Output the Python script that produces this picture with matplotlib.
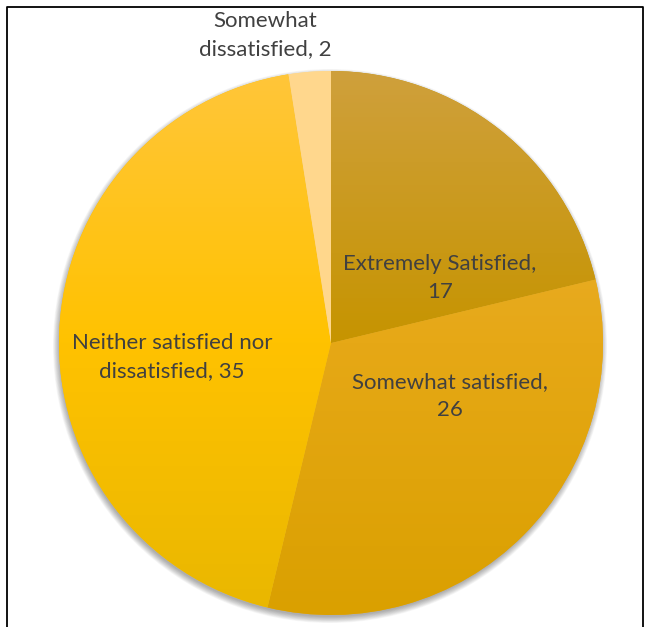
import numpy as np
import matplotlib.pyplot as plt
from matplotlib.colors import LinearSegmentedColormap
from matplotlib.patches import Circle

# dane wykresu
kategorie = ["Extremely Satisfied", "Somewhat satisfied",
             "Neither satisfied nor\ndissatisfied", "Somewhat\ndissatisfied"]
wartosci = [17, 26, 35, 2]
kolor_gora = ["#cfa03c", "#ecb23c", "#ffc63a", "#ffd88e"]
kolor_srodek = ["#c69400", "#e6a816", "#ffc200", "#ffd78c"]
kolor_dol = ["#b98700", "#daa000", "#e9b700", "#ffd68a"]
# pozycje etykiet (piksele obrazka)
etykiety_xy = [(440, 278), (450, 396), (172, 357), (265, 35)]

W, H = 649, 627
cx, cy, r = 331, H - 343, 272

plt.rcParams['font.family'] = ['Lato', 'DejaVu Sans']
fig = plt.figure(figsize=(W / 100, H / 100), dpi=100)
ax = fig.add_axes([0, 0, 1, 1])

# cien pod kolem
for i in range(10):
    ax.add_patch(Circle((cx - 1, cy - 3), r + 5 - i * 0.7, color='black',
                        alpha=0.035, lw=0, zorder=1))

wedges, _ = ax.pie(wartosci, startangle=90, counterclock=False,
                   center=(cx, cy), radius=r, frame=True,
                   wedgeprops=dict(linewidth=0))
ax.set_xlim(0, W)
ax.set_ylim(0, H)
ax.set_aspect('equal')
ax.axis('off')

# gradient pionowy w kazdym wycinku
for w, c1, c2, c3 in zip(wedges, kolor_gora, kolor_srodek, kolor_dol):
    w.set_zorder(2)
    w.set_facecolor(c2)
    cmap = LinearSegmentedColormap.from_list("g", [c3, c2, c1])
    grad = np.linspace(0, 1, 256).reshape(-1, 1)
    im = ax.imshow(grad, cmap=cmap, aspect='auto', origin='lower',
                   extent=(cx - r, cx + r, cy - r, cy + r), zorder=3)
    im.set_clip_path(w)

for kat, v, (x, y) in zip(kategorie, wartosci, etykiety_xy):
    if kat.startswith("Extremely") or kat.startswith("Somewhat satisfied"):
        tekst = f"{kat},\n{v}"
    else:
        tekst = f"{kat}, {v}"
    ax.text(x, H - y, tekst, ha='center', va='center', fontsize=16,
            color='#404040', linespacing=1.5, zorder=5)

# ramka
ax.plot([6.5, 6.5, 642.5, 642.5], [0, H - 6.5, H - 6.5, 0],
        color='black', lw=1.3, zorder=6, clip_on=False)

fig.savefig("out.png", dpi=100)
